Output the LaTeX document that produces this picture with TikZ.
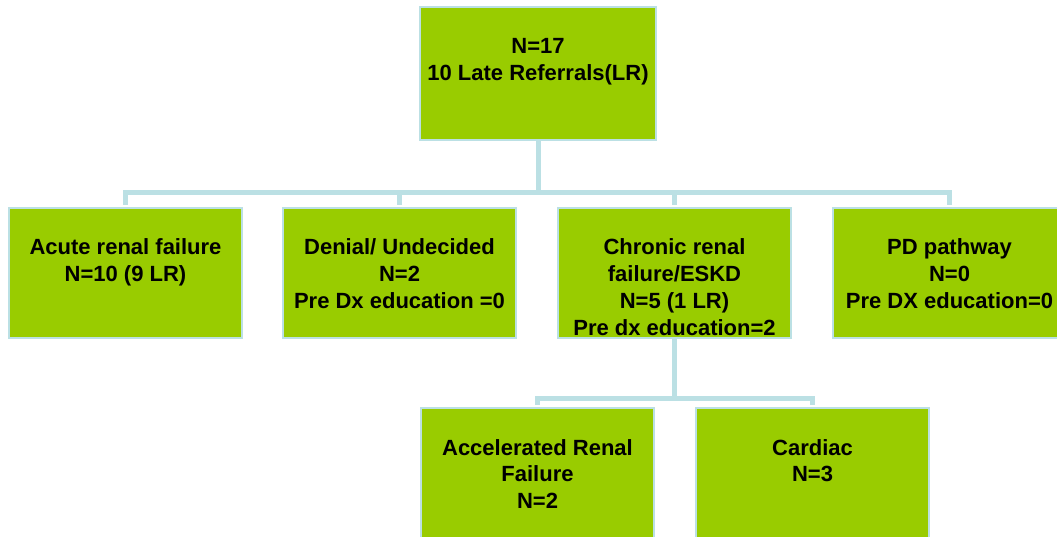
\documentclass[tikz,border=0pt]{standalone}
\usepackage{fontspec}
\setmainfont{Liberation Sans}
\definecolor{boxgreen}{RGB}{153,204,0}
\definecolor{connblue}{RGB}{187,224,228}
\newcommand{\boxtxt}[3]{\parbox[t][#2][t]{#1}{\centering\rule{0pt}{47pt}#3}}
\begin{document}
\begin{tikzpicture}[x=1pt,y=-1pt,
  box/.style={draw=connblue, line width=1.2pt, fill=boxgreen, inner sep=0pt, outer sep=0pt,
    anchor=north west, font=\fontsize{22}{26.7}\selectfont\bfseries},
  conn/.style={draw=connblue, line width=5pt, shorten >=3pt}]
\useasboundingbox (0,0) rectangle (1057,537);
\node[box] (top) at (420,7) {\boxtxt{236pt}{133pt}{N=17\\10 Late Referrals(LR)}};
\node[box] (c1) at (9,208) {\boxtxt{233pt}{130pt}{Acute renal failure\\N=10 (9 LR)}};
\node[box] (c2) at (283,208) {\boxtxt{233pt}{130pt}{Denial/ Undecided\\N=2\\Pre Dx education =0}};
\node[box] (c3) at (558,208) {\boxtxt{233pt}{130pt}{Chronic renal\\failure/ESKD\\N=5 (1 LR)\\Pre dx education=2}};
\node[box] (c4) at (833,208) {\boxtxt{233pt}{130pt}{PD pathway\\N=0\\Pre DX education=0}};
\node[box] (g1) at (421,408) {\boxtxt{233pt}{130pt}{Accelerated Renal\\Failure\\N=2}};
\node[box] (g2) at (696,408) {\boxtxt{233pt}{130pt}{Cardiac\\N=3}};
\coordinate (bus) at (0,193);
\coordinate (bus2) at (0,398);
\foreach \c in {c1,c2,c3,c4}
  \draw[conn] (top.south) -- (top.south |- bus) -| (\c.north);
\foreach \c in {g1,g2}
  \draw[conn] (c3.south) -- (c3.south |- bus2) -| (\c.north);
\end{tikzpicture}
\end{document}
